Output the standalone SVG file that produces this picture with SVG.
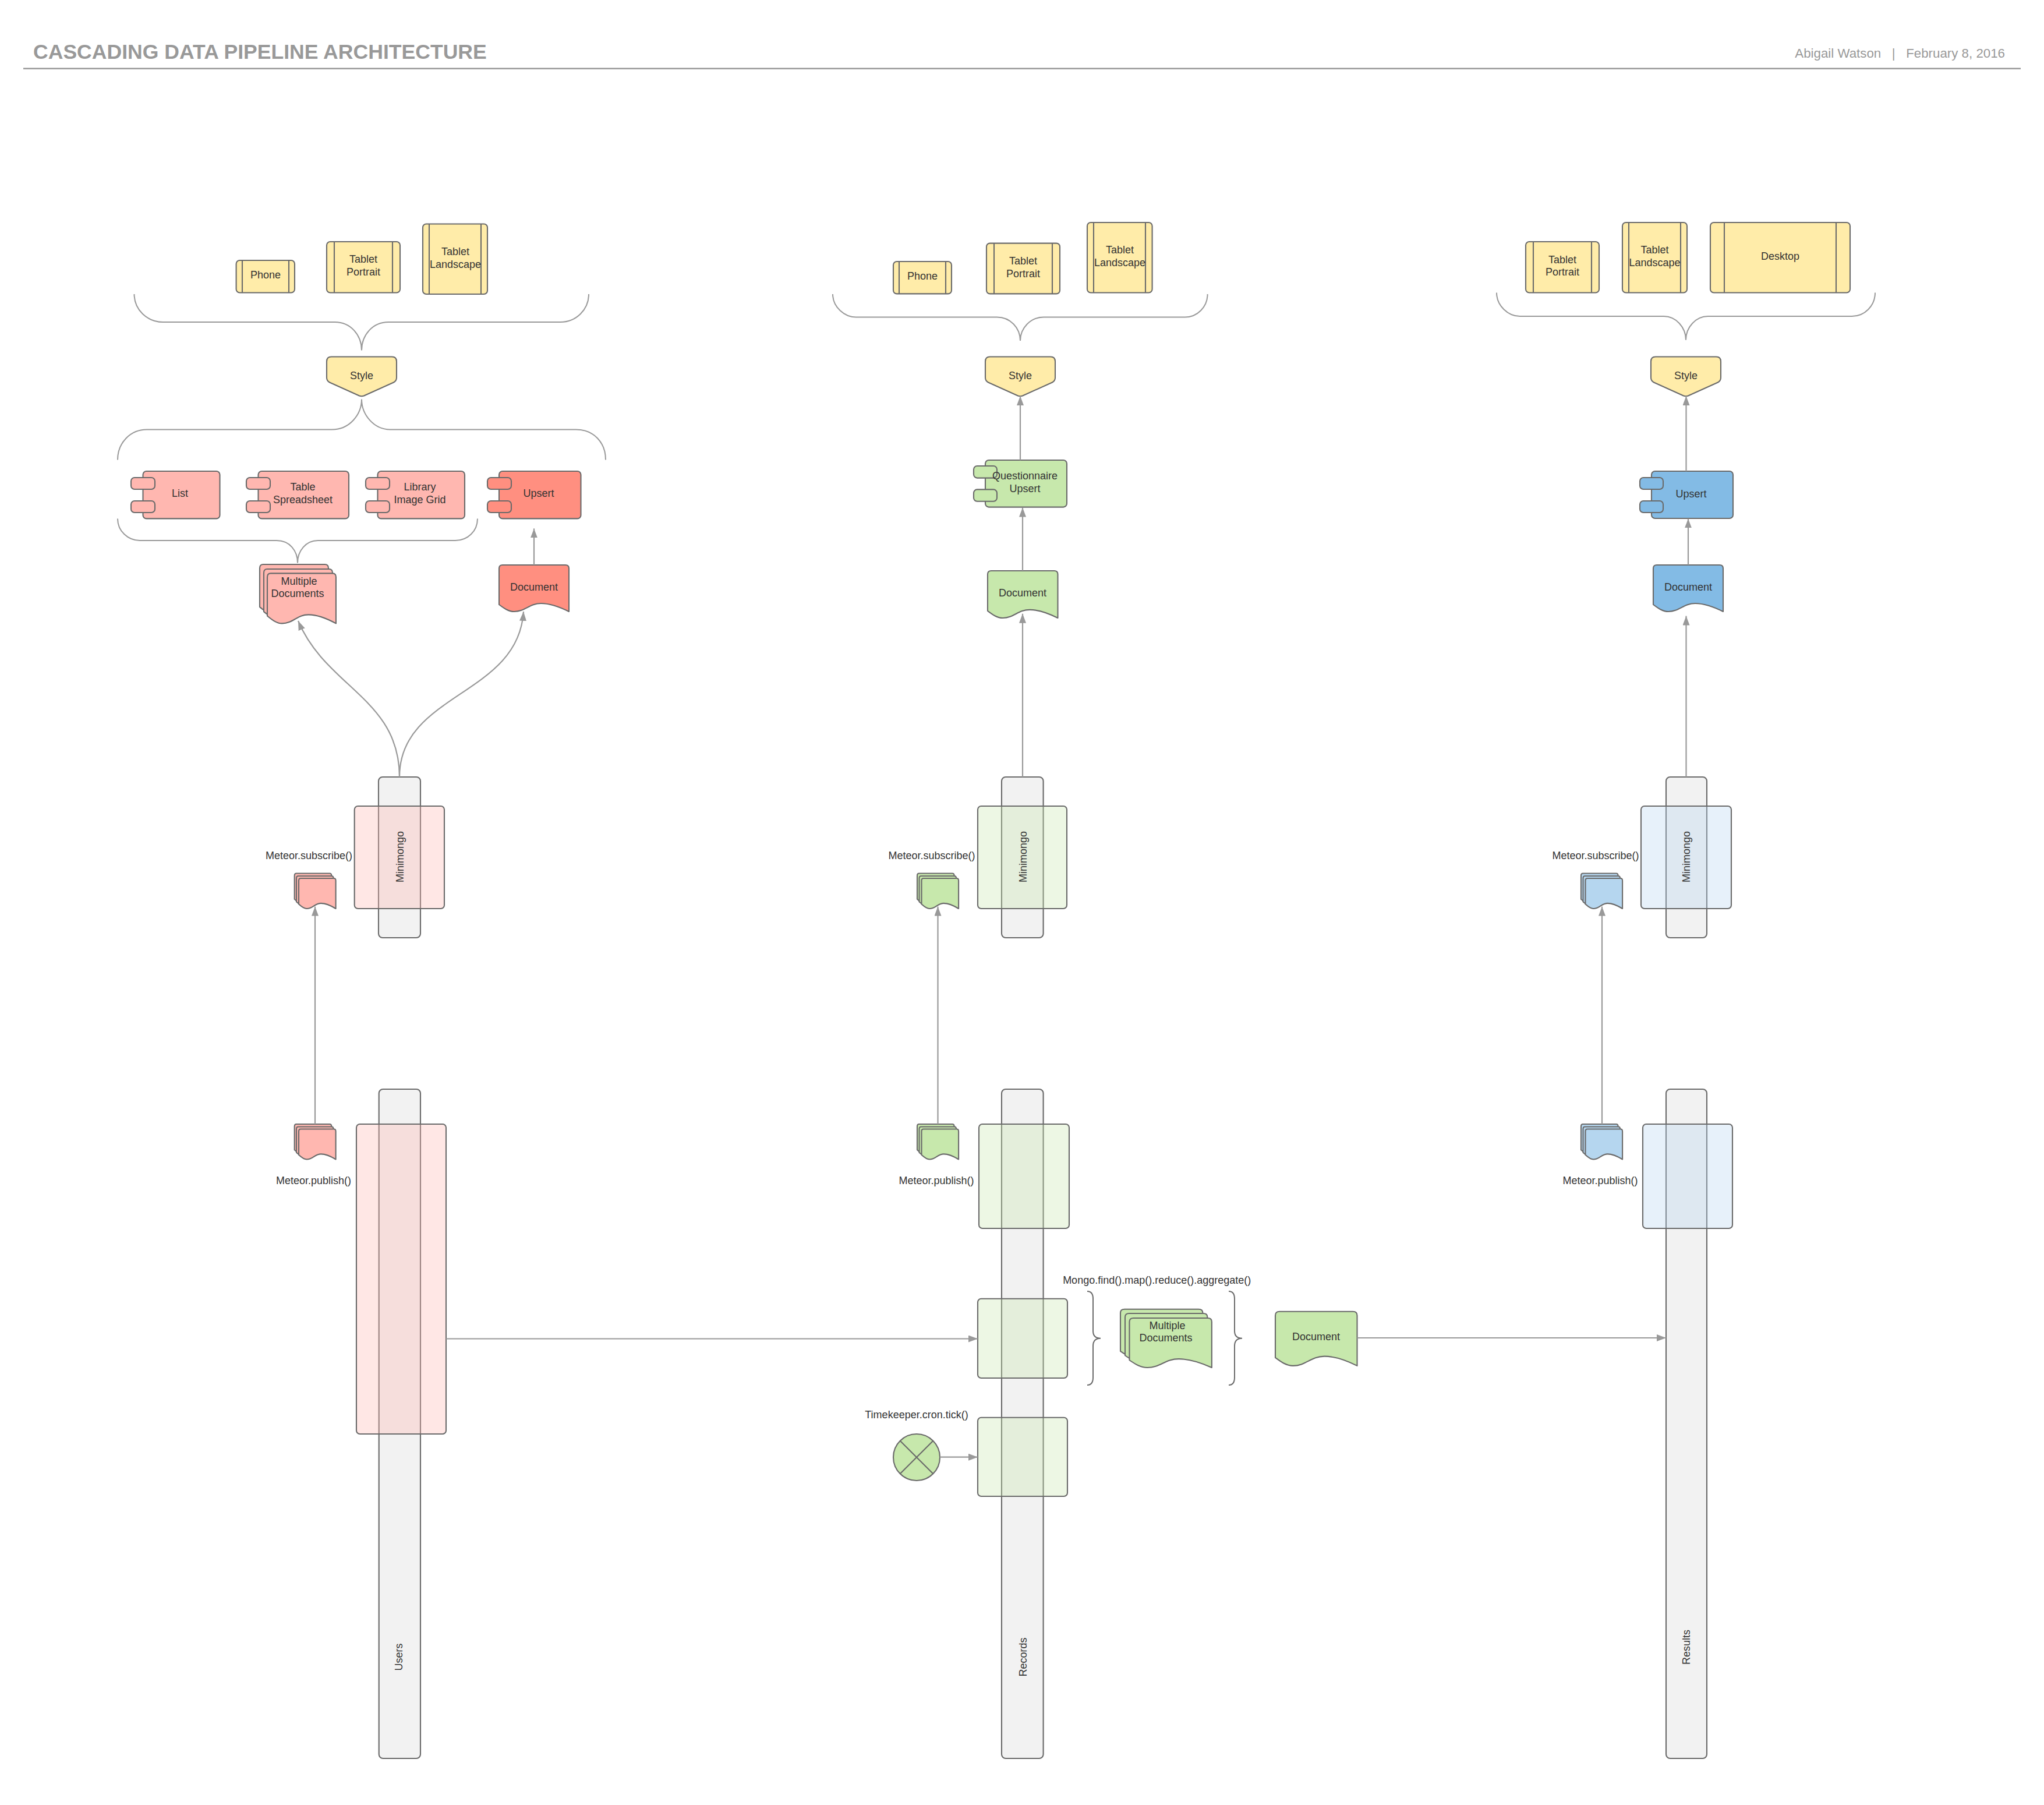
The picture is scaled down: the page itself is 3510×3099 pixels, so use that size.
<svg xmlns="http://www.w3.org/2000/svg" xmlns:xlink="http://www.w3.org/1999/xlink" width="3510" height="3099" viewBox="0 0 3510 3099">
<style>
text{font-family:"Liberation Sans",Arial,sans-serif;font-size:18px;fill:#333;text-anchor:middle}
.l{font-size:18px}
.title{font-size:35.6px;font-weight:bold;fill:#999;text-anchor:start}
.meta{font-size:22.3px;fill:#999;text-anchor:end}
.n,.n *{stroke:#6a6a6a;stroke-width:2.1;stroke-linejoin:round}
.n text{stroke:none}
.d{vector-effect:non-scaling-stroke}
.y{fill:#ffeca9}.p{fill:#ffb7b0}.r{fill:#ff8f80}.g{fill:#c7e8ac}.b{fill:#83bbe5}.lb{fill:#b5d6ef}
.bar{fill:#f2f2f2}
.op{fill-opacity:.33}
.c{fill:none;stroke:#999;stroke-width:2.2}
.a{marker-end:url(#arr)}
.br{fill:none;stroke:#999;stroke-width:2}
.cb{fill:none;stroke:#6a6a6a;stroke-width:2}
</style>
<defs>
<marker id="arr" markerUnits="userSpaceOnUse" markerWidth="16" markerHeight="12" refX="16" refY="6" orient="auto"><path d="M0,0L16,6L0,12Z" fill="#999"/></marker>
<path id="doc" class="d" d="M0,6Q0,0 6,0H114Q120,0 120,6V80C100,70 85,66 72,66C52,66 45,80 26,80C16,80 8,74 0,68Z"/>
<path id="sty" d="M0,8Q0,0 8,0H112Q120,0 120,8V36Q120,41 115,44L64,67Q60,68.5 56,67L5,44Q0,41 0,36Z"/>
</defs>
<rect width="3510" height="3099" fill="#fff"/>
<g id="header">
<text class="title" x="57" y="101">CASCADING DATA PIPELINE ARCHITECTURE</text>
<text class="meta" x="3443" y="99" xml:space="preserve">Abigail Watson   |   February 8, 2016</text>
<path d="M40,117.7H3470" stroke="#999" stroke-width="2.4" fill="none"/>
</g>
<g id="braces">
<path class="br" d="M230.5,505C230.5,531 252,553 280,553H575C602,553 621,575 621,601.6C621,575 640,553 667,553H962C990,553 1011,531 1011,505"/>
<path class="br" d="M202,789.5C202,760 224,737.5 252,737.5H570C600,737.5 621,712 621,685.6C621,712 642,737.5 670,737.5H989C1020,737.5 1040,760 1040,789.5"/>
<path class="br" d="M202,890.4C202,912 220,928 240,928H475C498,928 511,946 511,966.4C511,946 525,928 546,928H782C803,928 820,912 820,890.4"/>
<path class="br" d="M1430,505C1430,527 1450,544.5 1470,544.5H1712C1735,544.5 1752,563 1752,585C1752,563 1770,544.5 1792,544.5H2035C2056,544.5 2073.6,527 2073.6,505"/>
<path class="br" d="M2570,502.5C2570,525 2590,543 2610,543H2857C2878,543 2895,562 2895,583.7C2895,562 2912,543 2933,543H3180C3202,543 3220,525 3220,502.5"/>
<path class="cb" d="M1867,2217C1873,2217 1877,2221 1877,2230V2285C1877,2293 1881,2297.7 1890,2297.7C1881,2297.7 1877,2303 1877,2311V2365C1877,2374 1873,2378 1867,2378"/>
<path class="cb" d="M2110,2217C2116,2217 2120,2221 2120,2230V2285C2120,2293 2124,2297.7 2133,2297.7C2124,2297.7 2120,2303 2120,2311V2365C2120,2374 2116,2378 2110,2378"/>
</g>
<g id="phone-a" class="n"><rect class="y" x="405.6" y="447" width="100.4" height="55.5" rx="6"/><path d="M416,447V502.5M496,447V502.5"/><text x="456" y="478">Phone</text></g>
<g id="tabletp-a" class="n"><rect class="y" x="561" y="415" width="126" height="87.5" rx="6"/><path d="M574,415V502.5M674,415V502.5"/><text x="624" y="451">Tablet</text><text x="624" y="473">Portrait</text></g>
<g id="tabletl-a" class="n"><rect class="y" x="726" y="384.5" width="111" height="120.5" rx="6"/><path d="M737,384.5V505M826,384.5V505"/><text x="782" y="438">Tablet</text><text x="782" y="460">Landscape</text></g>
<g id="style-a" class="n"><use class="y" href="#sty" x="561" y="612.5"/><text x="621" y="651">Style</text></g>
<g id="list" class="n"><rect class="p" x="245.5" y="809" width="132" height="81.4" rx="6"/><rect class="p" x="225" y="820" width="41" height="20" rx="6"/><rect class="p" x="225" y="860" width="41" height="20" rx="6"/><text x="309" y="853">List</text></g>
<g id="table" class="n"><rect class="p" x="443.5" y="809" width="155.5" height="81.4" rx="6"/><rect class="p" x="423" y="820" width="41" height="20" rx="6"/><rect class="p" x="423" y="860" width="41" height="20" rx="6"/><text x="520" y="842">Table</text><text x="520" y="864">Spreadsheet</text></g>
<g id="library" class="n"><rect class="p" x="648.5" y="809" width="149.5" height="81.4" rx="6"/><rect class="p" x="628" y="820" width="41" height="20" rx="6"/><rect class="p" x="628" y="860" width="41" height="20" rx="6"/><text x="721" y="842">Library</text><text x="721" y="864">Image Grid</text></g>
<g id="upsert-a" class="n"><rect class="r" x="857" y="809" width="140.5" height="81.4" rx="6"/><rect class="r" x="837" y="820" width="41" height="20" rx="6"/><rect class="r" x="837" y="860" width="41" height="20" rx="6"/><text x="925" y="853">Upsert</text></g>
<g id="multi-a" class="n"><use class="p" href="#doc" transform="translate(446,969) scale(.983,1.075)"/><use class="p" href="#doc" transform="translate(453,977) scale(.983,1.075)"/><use class="p" href="#doc" transform="translate(459,984.4) scale(.983,1.075)"/><text x="513.5" y="1003.5">Multiple</text><text x="511" y="1025">Documents</text></g>
<g id="doc-a" class="n"><use class="r" href="#doc" x="857" y="970"/><text x="917" y="1014.4">Document</text></g>
<g id="phone-b" class="n"><rect class="y" x="1534" y="449" width="100" height="55.4" rx="6"/><path d="M1544,449V504.4M1624,449V504.4"/><text x="1584" y="480">Phone</text></g>
<g id="tabletp-b" class="n"><rect class="y" x="1694" y="417.6" width="126" height="86.8" rx="6"/><path d="M1707,417.6V504.4M1807,417.6V504.4"/><text x="1757" y="454">Tablet</text><text x="1757" y="475.5">Portrait</text></g>
<g id="tabletl-b" class="n"><rect class="y" x="1867" y="382" width="111.6" height="120.5" rx="6"/><path d="M1878,382V502.5M1967,382V502.5"/><text x="1923" y="435">Tablet</text><text x="1923" y="456.6">Landscape</text></g>
<g id="style-b" class="n"><use class="y" href="#sty" x="1692" y="612.5"/><text x="1752" y="650.6">Style</text></g>
<g id="upsert-b" class="n"><rect class="g" x="1692" y="790" width="140" height="80.6" rx="6"/><rect class="g" x="1672" y="800" width="40" height="20.6" rx="6"/><rect class="g" x="1672" y="840.4" width="40" height="20.3" rx="6"/><text x="1760" y="823">Questionnaire</text><text x="1760" y="845">Upsert</text></g>
<g id="doc-b" class="n"><use class="g" href="#doc" transform="translate(1696,980) scale(1.004,1.0125)"/><text x="1756" y="1024">Document</text></g>
<g id="tabletp-c" class="n"><rect class="y" x="2620" y="415" width="126" height="87.5" rx="6"/><path d="M2633,415V502.5M2733,415V502.5"/><text x="2683" y="452">Tablet</text><text x="2683" y="473">Portrait</text></g>
<g id="tabletl-c" class="n"><rect class="y" x="2786" y="382" width="111" height="120.5" rx="6"/><path d="M2797,382V502.5M2886,382V502.5"/><text x="2841.5" y="435">Tablet</text><text x="2841.5" y="456.6">Landscape</text></g>
<g id="desktop" class="n"><rect class="y" x="2937" y="382" width="240" height="120.5" rx="6"/><path d="M2961,382V502.5M3153,382V502.5"/><text x="3057" y="446">Desktop</text></g>
<g id="style-c" class="n"><use class="y" href="#sty" x="2835" y="612.5"/><text x="2895" y="650.6">Style</text></g>
<g id="upsert-c" class="n"><rect class="b" x="2836" y="809" width="140" height="81" rx="6"/><rect class="b" x="2816" y="820" width="40" height="20" rx="6"/><rect class="b" x="2816" y="860" width="40" height="20" rx="6"/><text x="2904" y="853.5">Upsert</text></g>
<g id="doc-c" class="n"><use class="b" href="#doc" x="2839" y="970"/><text x="2899" y="1014">Document</text></g>
<g id="users" class="n"><rect class="bar" x="650.7" y="1870" width="71.3" height="1149" rx="7"/><text transform="rotate(-90 685 2845)" x="685" y="2851">Users</text></g>
<g id="records" class="n"><rect class="bar" x="1720" y="1870" width="71.6" height="1149" rx="7"/><text transform="rotate(-90 1757 2845)" x="1757" y="2851">Records</text></g>
<g id="results" class="n"><rect class="bar" x="2861" y="1870" width="70" height="1149" rx="7"/><text transform="rotate(-90 2896 2828)" x="2896" y="2834">Results</text></g>
<g id="mini-a" class="n"><rect class="bar" x="650" y="1334" width="72" height="276" rx="7"/><rect class="p op" x="608.7" y="1384" width="154.3" height="176" rx="6"/><text transform="rotate(-90 687 1471)" x="687" y="1477">Minimongo</text></g>
<g id="mini-b" class="n"><rect class="bar" x="1720" y="1334" width="71.6" height="276" rx="7"/><rect class="g op" x="1679" y="1384" width="153" height="176" rx="6"/><text transform="rotate(-90 1757 1471)" x="1757" y="1477">Minimongo</text></g>
<g id="mini-c" class="n"><rect class="bar" x="2861" y="1334" width="70" height="276" rx="7"/><rect class="lb op" x="2818" y="1384" width="155" height="176" rx="6"/><text transform="rotate(-90 2896 1471)" x="2896" y="1477">Minimongo</text></g>
<g id="pub-a" class="n"><rect class="p op" x="612" y="1930" width="154" height="532" rx="6"/></g>
<g id="pub-b" class="n"><rect class="g op" x="1681" y="1930" width="155" height="179" rx="6"/></g>
<g id="pub-c" class="n"><rect class="lb op" x="2821" y="1930" width="154" height="179" rx="6"/></g>
<g id="rec-1" class="n"><rect class="g op" x="1679" y="2229.7" width="154" height="136.3" rx="6"/></g>
<g id="rec-2" class="n"><rect class="g op" x="1679" y="2433.7" width="154" height="135.3" rx="6"/></g>
<g id="sdoc-a1" class="n"><use class="p" href="#doc" transform="translate(505.7,1499.5) scale(.53,.65)"/><use class="p" href="#doc" transform="translate(509,1504) scale(.53,.65)"/><use class="p" href="#doc" transform="translate(513,1508) scale(.53,.65)"/></g>
<g id="sdoc-a2" class="n"><use class="p" href="#doc" transform="translate(505.7,1930) scale(.53,.65)"/><use class="p" href="#doc" transform="translate(509,1934.5) scale(.53,.65)"/><use class="p" href="#doc" transform="translate(513,1938.5) scale(.53,.65)"/></g>
<g id="sdoc-b1" class="n"><use class="g" href="#doc" transform="translate(1575,1499.5) scale(.53,.65)"/><use class="g" href="#doc" transform="translate(1578.5,1504) scale(.53,.65)"/><use class="g" href="#doc" transform="translate(1582.5,1508) scale(.53,.65)"/></g>
<g id="sdoc-b2" class="n"><use class="g" href="#doc" transform="translate(1575,1930) scale(.53,.65)"/><use class="g" href="#doc" transform="translate(1578.5,1934.5) scale(.53,.65)"/><use class="g" href="#doc" transform="translate(1582.5,1938.5) scale(.53,.65)"/></g>
<g id="sdoc-c1" class="n"><use class="lb" href="#doc" transform="translate(2715,1499.5) scale(.53,.65)"/><use class="lb" href="#doc" transform="translate(2718.5,1504) scale(.53,.65)"/><use class="lb" href="#doc" transform="translate(2722.5,1508) scale(.53,.65)"/></g>
<g id="sdoc-c2" class="n"><use class="lb" href="#doc" transform="translate(2715,1930) scale(.53,.65)"/><use class="lb" href="#doc" transform="translate(2718.5,1934.5) scale(.53,.65)"/><use class="lb" href="#doc" transform="translate(2722.5,1938.5) scale(.53,.65)"/></g>
<g id="multi-b" class="n"><use class="g" href="#doc" transform="translate(1924,2247.7) scale(1.178,1.0625)"/><use class="g" href="#doc" transform="translate(1932,2255) scale(1.178,1.0625)"/><use class="g" href="#doc" transform="translate(1939.5,2263) scale(1.178,1.0625)"/><text x="2004.6" y="2281.7">Multiple</text><text x="2002" y="2303">Documents</text></g>
<g id="doc-d" class="n"><use class="g" href="#doc" transform="translate(2190,2251.7) scale(1.171,1.165)"/><text x="2260" y="2301">Document</text></g>
<g id="timer" class="n"><circle class="g" cx="1574" cy="2502" r="40"/><path d="M1545.7,2473.7L1602.3,2530.3M1602.3,2473.7L1545.7,2530.3" fill="none"/></g>
<g id="labels">
<text class="l" x="530.5" y="1475">Meteor.subscribe()</text>
<text class="l" x="538.5" y="2033">Meteor.publish()</text>
<text class="l" x="1600" y="1475">Meteor.subscribe()</text>
<text class="l" x="1608" y="2033">Meteor.publish()</text>
<text class="l" x="2740" y="1475">Meteor.subscribe()</text>
<text class="l" x="2748" y="2033">Meteor.publish()</text>
<text class="l" x="1986.7" y="2203.7">Mongo.find().map().reduce().aggregate()</text>
<text class="l" x="1574" y="2435">Timekeeper.cron.tick()</text>
</g>
<g id="connectors">
<path class="c a" d="M686,1334C686,1200 560,1180 512,1066"/>
<path class="c a" d="M686,1334C686,1190 890,1195 899,1050"/>
<path class="c a" d="M917,970V907.4"/>
<path class="c a" d="M1756,1334V1053.7"/>
<path class="c a" d="M1756,980V871.6"/>
<path class="c a" d="M1752,790V680"/>
<path class="c a" d="M2895.5,1334V1057.5"/>
<path class="c a" d="M2899,970V890.4"/>
<path class="c a" d="M2895.5,809V680"/>
<path class="c a" d="M541,1930V1556.6"/>
<path class="c a" d="M1610.5,1930V1556.6"/>
<path class="c a" d="M2751,1930V1556.6"/>
<path class="c a" d="M766,2298.5H1679"/>
<path class="c a" d="M1614,2501.7H1679"/>
<path class="c a" d="M2330.5,2297H2861"/>
</g>
</svg>
